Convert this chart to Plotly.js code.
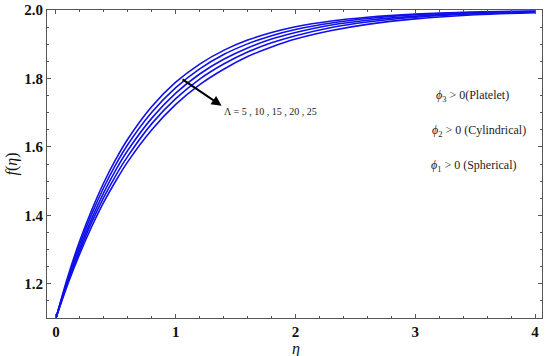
<!DOCTYPE html>
<html>
<head>
<meta charset="utf-8">
<script src="https://cdn.plot.ly/plotly-3.0.1.min.js"></script>
<style>
  body { margin: 0; background: #fff; }
  #graph { width: 550px; height: 356px; }
</style>
</head>
<body>
<div id="graph"></div>
<script>
// eta grid and f(eta), one array per Lambda value (top curve first)
const eta = [0, 0.1, 0.2, 0.3, 0.4, 0.5, 0.6, 0.8, 1.0, 1.2, 1.4, 1.6, 1.8, 2.0, 2.3, 2.6, 3.0, 3.5, 4.0];
const fA = [1.100, 1.222, 1.327, 1.417, 1.496, 1.564, 1.623, 1.718, 1.789, 1.842, 1.882, 1.912, 1.934, 1.951, 1.968, 1.979, 1.988, 1.994, 1.997];
const fB = [1.100, 1.216, 1.317, 1.405, 1.482, 1.549, 1.607, 1.701, 1.773, 1.828, 1.870, 1.901, 1.925, 1.943, 1.962, 1.975, 1.986, 1.993, 1.996];
const fC = [1.100, 1.211, 1.307, 1.392, 1.467, 1.533, 1.590, 1.684, 1.757, 1.813, 1.856, 1.889, 1.915, 1.934, 1.956, 1.970, 1.982, 1.991, 1.995];
const fD = [1.100, 1.205, 1.298, 1.381, 1.453, 1.517, 1.573, 1.668, 1.741, 1.798, 1.842, 1.877, 1.904, 1.925, 1.949, 1.965, 1.979, 1.989, 1.994];
const fE = [1.100, 1.200, 1.289, 1.368, 1.439, 1.501, 1.557, 1.650, 1.724, 1.782, 1.827, 1.864, 1.892, 1.915, 1.940, 1.958, 1.974, 1.986, 1.992];

const lambdaLabel = 'Λ = 5 , 10 , 15 , 20 , 25';
const phiLabels = [
  '<i>ϕ</i><sub>3</sub> > 0(Platelet)',
  '<i>ϕ</i><sub>2</sub> > 0 (Cylindrical)',
  '<i>ϕ</i><sub>1</sub> > 0 (Spherical)'
];

const serif = 'Liberation Serif, Times New Roman, serif';

const traces = [fA, fB, fC, fD, fE].map(f => ({
  x: eta, y: f, mode: 'lines', line: { color: '#1010e8', width: 1.6, shape: 'spline' },
  hoverinfo: 'skip', showlegend: false
}));

const axisCommon = {
  showgrid: false, zeroline: false, showline: true, linecolor: '#555', linewidth: 1,
  mirror: 'allticks', ticks: 'inside', ticklen: 4, tickcolor: '#555',
  tickfont: { family: serif, size: 15, color: '#111', weight: 'bold' }
};

Plotly.newPlot('graph', traces, {
  width: 550, height: 356,
  margin: { l: 47, r: 8, t: 10, b: 38 },
  paper_bgcolor: '#fff', plot_bgcolor: '#fff',
  xaxis: Object.assign({}, axisCommon, {
    range: [-0.075, 4.058], tickvals: [0, 1, 2, 3, 4], ticktext: ['0', '1', '2', '3', '4'],
    minor: { dtick: 0.2, ticks: 'inside', ticklen: 2, tickcolor: '#555' }
  }),
  yaxis: Object.assign({}, axisCommon, {
    range: [1.1, 2.0], tickvals: [1.2, 1.4, 1.6, 1.8, 2.0], ticktext: ['1.2', '1.4', '1.6', '1.8', '2.0'],
    minor: { dtick: 0.05, ticks: 'inside', ticklen: 2, tickcolor: '#555' },
    title: { text: '<i>f</i>(<i>η</i>)', font: { family: serif, size: 16, color: '#111' }, standoff: 2 }
  }),
  annotations: [
    // x-axis title placed below the tick labels
    { x: 2.0, y: -0.1, xref: 'x', yref: 'paper', xanchor: 'center', yanchor: 'middle', showarrow: false,
      text: '<i>η</i>', font: { family: serif, size: 16, color: '#111' } },
    { x: 1.383, y: 1.72, ax: 1.044, ay: 1.8, xref: 'x', yref: 'y', axref: 'x', ayref: 'y',
      text: '', showarrow: true, arrowhead: 2, arrowsize: 1, arrowwidth: 2, arrowcolor: '#000' },
    { x: 1.386, y: 1.703, xref: 'x', yref: 'y', xanchor: 'left', yanchor: 'middle', showarrow: false,
      text: lambdaLabel, font: { family: serif, size: 10, color: '#222' } },
    { x: 3.478, y: 1.748, xref: 'x', yref: 'y', xanchor: 'center', yanchor: 'middle', showarrow: false,
      text: phiLabels[0], font: { family: serif, size: 12, color: '#222' } },
    { x: 3.535, y: 1.647, xref: 'x', yref: 'y', xanchor: 'center', yanchor: 'middle', showarrow: false,
      text: phiLabels[1], font: { family: serif, size: 12, color: '#222' } },
    { x: 3.486, y: 1.545, xref: 'x', yref: 'y', xanchor: 'center', yanchor: 'middle', showarrow: false,
      text: phiLabels[2], font: { family: serif, size: 12, color: '#222' } }
  ]
}, { displayModeBar: false, staticPlot: true });
</script>
</body>
</html>
